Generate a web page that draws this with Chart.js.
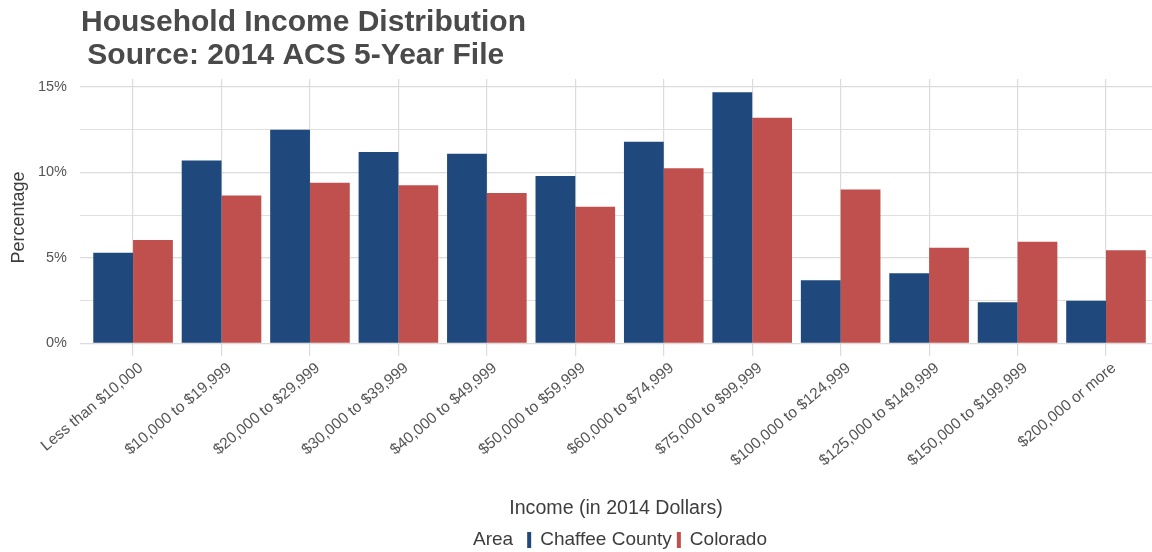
<!DOCTYPE html>
<html>
<head>
<meta charset="utf-8">
<title>Household Income Distribution</title>
<script src="https://cdn.jsdelivr.net/npm/chart.js@4.4.1/dist/chart.umd.min.js"></script>
<style>
  html, body { margin: 0; padding: 0; background: #fff; }
  #wrap { width: 1152px; height: 552px; position: relative; }
</style>
</head>
<body>
<div id="wrap"><canvas id="chart"></canvas></div>
<script>
// income brackets (x axis)
const categories = [
  'Less than $10,000', '$10,000 to $19,999', '$20,000 to $29,999', '$30,000 to $39,999',
  '$40,000 to $49,999', '$50,000 to $59,999', '$60,000 to $74,999', '$75,000 to $99,999',
  '$100,000 to $124,999', '$125,000 to $149,999', '$150,000 to $199,999', '$200,000 or more'
];

// percent of households
const chaffee = [5.3, 10.7, 12.5, 11.2, 11.1, 9.8, 11.8, 14.7, 3.7, 4.1, 2.4, 2.5];
const colorado = [6.05, 8.65, 9.4, 9.25, 8.8, 8.0, 10.25, 13.2, 9.0, 5.6, 5.95, 5.45];

const yTicks = [0, 5, 10, 15];
const seriesNames = ['Chaffee County', 'Colorado'];
const seriesColors = ['#1f497d', '#c0504d'];

const FONT = "'Liberation Sans', Arial, sans-serif";
const GRID = '#dcdcdc';

// title drawn at the left edge of the plot panel, like ggplot does
const titlePlugin = {
  id: 'panelTitle',
  afterDraw(chart) {
    const ctx = chart.ctx;
    const x = chart.chartArea.left + 1;
    ctx.save();
    ctx.fillStyle = '#4a4a4a';
    ctx.font = 'bold 30px ' + FONT;
    ctx.textBaseline = 'alphabetic';
    ctx.textAlign = 'left';
    ctx.fillText('Household Income Distribution', x, 31);
    ctx.fillText(' Source: 2014 ACS 5-Year File', x - 2, 64);
    ctx.restore();
  }
};

// horizontal legend with the "Area" label inline
const legendPlugin = {
  id: 'areaLegend',
  afterDraw(chart) {
    const ctx = chart.ctx;
    const y = 540;
    ctx.save();
    ctx.font = '19px ' + FONT;
    ctx.textBaseline = 'middle';
    ctx.textAlign = 'left';
    const items = [];
    let w = ctx.measureText('Area').width + 14;
    seriesNames.forEach((name, i) => {
      const tw = ctx.measureText(name).width;
      items.push({ name, tw, color: seriesColors[i] });
      w += 4 + 9 + tw + (i < seriesNames.length - 1 ? 5 : 0);
    });
    const center = (chart.chartArea.left + chart.chartArea.right) / 2 + 4;
    let x = center - w / 2;
    ctx.fillStyle = '#3d3d3d';
    ctx.fillText('Area', x, y);
    x += ctx.measureText('Area').width + 14;
    items.forEach(it => {
      ctx.fillStyle = it.color;
      ctx.fillRect(x, y - 8, 4, 16);
      x += 4 + 9;
      ctx.fillStyle = '#3d3d3d';
      ctx.fillText(it.name, x, y);
      x += it.tw + 5;
    });
    ctx.restore();
  }
};

const datasets = seriesNames.map((name, s) => ({
  label: name,
  data: (s === 0 ? chaffee : colorado).map((v, i) => ({ x: i + 1, y: v })),
  backgroundColor: seriesColors[s],
  borderWidth: 0,
  categoryPercentage: 0.9,
  barPercentage: 1.0
}));

new Chart(document.getElementById('chart'), {
  type: 'bar',
  data: { datasets },
  plugins: [titlePlugin, legendPlugin],
  options: {
    responsive: true,
    maintainAspectRatio: false,
    animation: false,
    layout: { padding: { top: 79, right: 0, bottom: 0, left: 0 } },
    plugins: {
      legend: { display: false },
      title: { display: false },
      tooltip: { enabled: false }
    },
    scales: {
      x: {
        type: 'linear',
        min: 0.4,
        max: 12.52,
        offset: false,
        border: { display: false },
        grid: { color: GRID, lineWidth: 1.2, drawTicks: false, offset: false },
        afterFit(scale) { scale.height = 196; },
        afterBuildTicks(scale) {
          scale.ticks = categories.map((c, i) => ({ value: i + 1 }));
        },
        ticks: {
          autoSkip: false,
          minRotation: 40,
          maxRotation: 40,
          padding: 3,
          labelOffset: 8,
          color: '#555',
          font: { family: FONT, size: 15.5 },
          callback: (v) => categories[Math.round(v) - 1]
        },
        title: {
          display: true,
          text: 'Income (in 2014 Dollars)',
          color: '#3d3d3d',
          font: { family: FONT, size: 19.6 },
          padding: { top: 0, bottom: 32 }
        }
      },
      y: {
        min: -0.74,
        max: 15.47,
        border: { display: false },
        afterFit(scale) { scale.width = 80; },
        afterBuildTicks(scale) {
          const t = [];
          for (let v = 0; v <= 15; v += 2.5) t.push({ value: v });
          scale.ticks = t;
        },
        grid: {
          color: GRID,
          drawTicks: false,
          lineWidth: (c) => (c.tick && c.tick.value % 5 === 0 ? 1.2 : 0.9)
        },
        ticks: {
          padding: 13,
          color: '#555',
          font: { family: FONT, size: 14.5 },
          callback: (v) => (yTicks.includes(v) ? v + '%' : '')
        },
        title: {
          display: true,
          text: 'Percentage',
          color: '#3d3d3d',
          font: { family: FONT, size: 18 },
          padding: { top: 8, bottom: 0 }
        }
      }
    }
  }
});
</script>
</body>
</html>
